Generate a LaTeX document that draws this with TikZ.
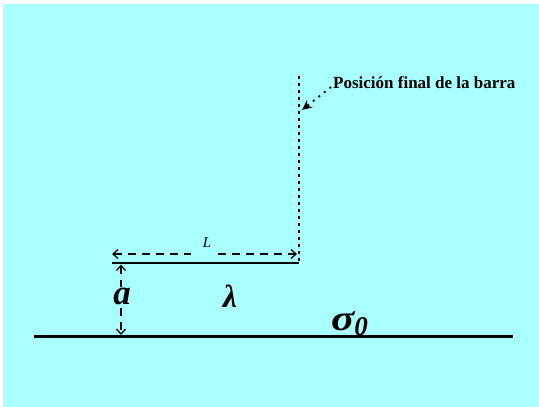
\documentclass[tikz,border=0pt]{standalone}
\usepackage{fontspec}
\setmainfont{Liberation Serif}
\usetikzlibrary{arrows.meta}
\definecolor{bgcyan}{RGB}{170,255,255}
\tikzset{
  lbl/.style={inner sep=1pt, fill=bgcyan},
  dimline/.style={dash pattern=on 8pt off 6pt, line width=1.3pt},
  solidbar/.style={line width=2pt},
  dotline/.style={line width=2.2pt, dash pattern=on 3pt off 4pt},
}
\begin{document}
\begin{tikzpicture}[x=1pt,y=-1pt, >={Straight Barb[length=5pt,width=9pt]}]
\useasboundingbox (0,0) rectangle (539,407);
\fill[white] (0,0) rectangle (539,407);
\fill[bgcyan] (3,4) rectangle (539,407);
% ground
\coordinate (g1) at (34,336.5);
\coordinate (g2) at (513,336.5);
\draw[line width=2.4pt] (g1) -- (g2);
% bar
\coordinate (b1) at (112,263);
\coordinate (b2) at (299,263);
\draw[solidbar] (b1) -- (b2);
% final position (vertical dotted)
\coordinate (v1) at (299,76);
\draw[dotline] (v1) -- (b2);
% L dimension
\coordinate (l1) at (112,254);
\coordinate (l2) at (297,254);
\node[inner sep=0pt, font=\fontsize{15}{15}\selectfont\itshape] (L) at (207,243) {L};
\coordinate (lg1) at (191,254);
\coordinate (lg2) at (218,254);
\draw[dimline, <-] (l1) -- (lg1);
\draw[dimline, ->] (lg2) -- (l2);
% a dimension
\coordinate (a1) at (121,264.5);
\coordinate (a2) at (121,335);
\draw[dimline, <->] (a1) -- (a2);
\node[lbl, font=\fontsize{35}{35}\selectfont\bfseries\itshape] (a) at (122,296) {a};
% lambda
\node[inner sep=0pt, font=\fontsize{32}{32}\selectfont\bfseries\itshape] (lam) at (230,296) {λ};
% sigma0
\node[inner sep=0pt, anchor=base west, font=\fontsize{36}{36}\selectfont\bfseries\itshape] (sig) at (331,330) {\scalebox{1.2}[1]{σ}\raisebox{-5pt}{\fontsize{27}{27}\selectfont 0}};
% annotation
\node[inner sep=0pt, anchor=base west, font=\fontsize{17}{17}\selectfont\bfseries] (pos) at (333,88) {Posición final de la barra};
\coordinate (p1) at (331,87);
\coordinate (p2) at (302,110);
\draw[line width=1.8pt, dash pattern=on 2pt off 5pt, -{Stealth[length=10pt,width=9pt]}] (p1) -- (p2);
\end{tikzpicture}
\end{document}
